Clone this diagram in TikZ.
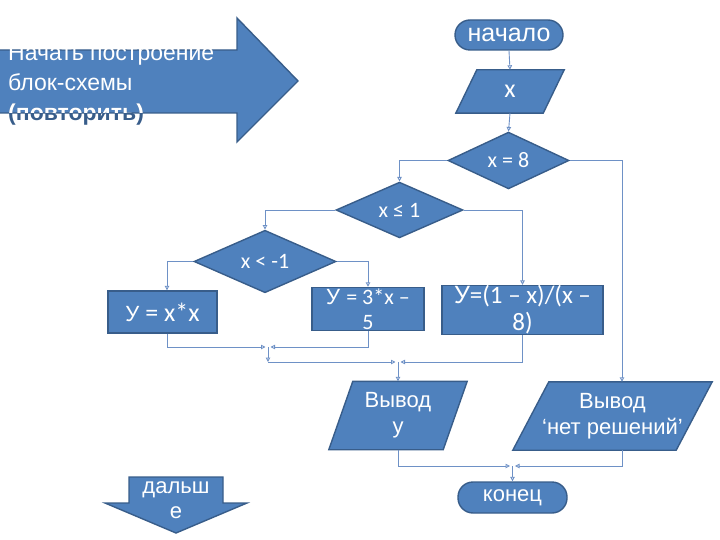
\documentclass[tikz,border=0pt]{standalone}
\usepackage{fontspec}
\setmainfont{Liberation Sans}
\newfontfamily\calfnt{Carlito}
\usetikzlibrary{shapes.geometric,arrows.meta}
\pgfdeclarelayer{background}
\pgfsetlayers{background,main}
\definecolor{bfill}{HTML}{4F81BD}
\definecolor{bline}{HTML}{385D8A}
\definecolor{cline}{RGB}{110,145,198}
\tikzset{
  shp/.style={fill=bfill,draw=bline,line width=1.4pt},
  txt/.style={text=white,font=\fontsize{22}{27}\selectfont,align=center,inner sep=0pt},
  stadium/.style={shp,txt,rectangle,rounded corners=15pt},
  boxn/.style={shp,txt,rectangle},
  dia/.style={shp,txt,diamond,font=\calfnt\fontsize{22}{27}\selectfont},
  parabox/.style={txt,rectangle},
  conn/.style={draw=cline,line width=0.9pt,-{Triangle[open,length=4.5pt,width=4.5pt]}},
}
\newcommand\parafill[2]{\begin{pgfonlayer}{background}\filldraw[shp] ([xshift=#2pt]#1.north west) -- (#1.north east) -- ([xshift=-#2pt]#1.south east) -- (#1.south west) -- cycle;\end{pgfonlayer}}
\begin{document}
\begin{tikzpicture}[x=1pt,y=-1pt]
\useasboundingbox (0,0) rectangle (720,540);
% big arrow
\filldraw[shp] (-2,50) -- (237,50) -- (237,18) -- (298,81) -- (237,142) -- (237,113) -- (-2,113) -- cycle;
\node[anchor=base west,inner sep=0pt,text=white,font=\fontsize{23}{28}\selectfont] (t1) at (8,61) {Начать построение};
\node[anchor=base west,inner sep=0pt,text=white,font=\fontsize{23}{28}\selectfont] (t2) at (8,91) {блок-схемы};
\node[anchor=base west,inner sep=0pt,text=bline,font=\fontsize{23}{28}\selectfont\bfseries] (t3d) at (8,121) {(повторить)};
\begin{scope}
\clip (0,50) rectangle (237,113);
\node[anchor=base west,inner sep=0pt,text=white,font=\fontsize{23}{28}\selectfont\bfseries] (t3) at (8,121) {(повторить)};
\end{scope}
% bottom arrow
\filldraw[shp] (129,477) -- (223,477) -- (223,503) -- (247,503) -- (176,533) -- (105,503) -- (129,503) -- cycle;
\node[anchor=base,inner sep=0pt,text=white,font=\fontsize{22}{27}\selectfont] (d1t) at (176,493) {дальш};
\node[anchor=base,inner sep=0pt,text=white,font=\fontsize{22}{27}\selectfont] (d2t) at (176,518) {е};
% flowchart nodes
\node[stadium,minimum width=108pt,minimum height=30pt,font=\fontsize{25}{28}\selectfont] (start) at (509,35) {начало};
\node[parabox,minimum width=108pt,minimum height=43pt,font=\calfnt\fontsize{26}{28}\selectfont] (x) at (510,91.5) {x};
\parafill{x}{21}
\node[dia,minimum width=121pt,minimum height=55pt] (d8) at (508.5,160.5) {x = 8};
\node[dia,minimum width=127pt,minimum height=54pt] (d1) at (399.5,210) {x ≤ 1};
\node[dia,minimum width=142pt,minimum height=57pt] (d2) at (265,261.5) {x < -1};
\node[boxn,minimum width=109pt,minimum height=42pt] (b1) at (162.5,312) {У {\calfnt\fontsize{26}{28}\selectfont = x*x}};
\node[boxn,minimum width=112pt,minimum height=43pt] (b2) at (368,309) {У {\calfnt = 3*x –}\\[-2pt]{\calfnt 5}};
\node[boxn,minimum width=161pt,minimum height=42pt,font=\fontsize{25}{29}\selectfont] (b3) at (522.5,310) {У{\calfnt =(1 – x)/(x –}\\[-2pt]{\calfnt 8)}};
\node[parabox,minimum width=138pt,minimum height=68pt,font=\fontsize{22}{26}\selectfont] (vy) at (398,415.5) {Вывод\\у};
\parafill{vy}{24}
\node[parabox,minimum width=199pt,minimum height=68pt,font=\fontsize{22}{26}\selectfont] (vn) at (612.5,416) {Вывод\\‘нет решений’};
\parafill{vn}{36}
\node[stadium,minimum width=109pt,minimum height=31pt] (end) at (512.5,497.5) {конец};
% junction points
\coordinate (j1) at (268,347);
\coordinate (j1b) at (268,362);
\coordinate (j2) at (398,362);
\coordinate (j3) at (512.5,466);
% connectors
\draw[conn] (start.south) -- (x.north);
\draw[conn] (x.south) -- (d8.north);
\draw[conn] (d8.west) -| (d1.north);
\draw[conn] (d8.east) -| ([xshift=9.5pt]vn.north);
\draw[conn] (d1.west) -| (d2.north);
\draw[conn] (d1.east) -| (b3.north);
\draw[conn] (d2.west) -| ([xshift=4.5pt]b1.north);
\draw[conn] (d2.east) -| (b2.north);
\draw[conn] ([xshift=4.5pt]b1.south) |- ([xshift=-2.5pt]j1);
\draw[conn] (b2.south) |- ([xshift=2.5pt]j1);
\draw[conn] (j1) -- (j1b);
\draw[conn] (j1b) -- ([xshift=-2.5pt]j2);
\draw[conn] (b3.south) |- ([xshift=2.5pt]j2);
\draw[conn] (j2) -- (vy.north);
\draw[conn] (vy.south) |- ([xshift=-2.5pt]j3);
\draw[conn] ([xshift=9.5pt]vn.south) |- ([xshift=2.5pt]j3);
\draw[conn] (j3) -- (end.north);
\end{tikzpicture}
\end{document}
